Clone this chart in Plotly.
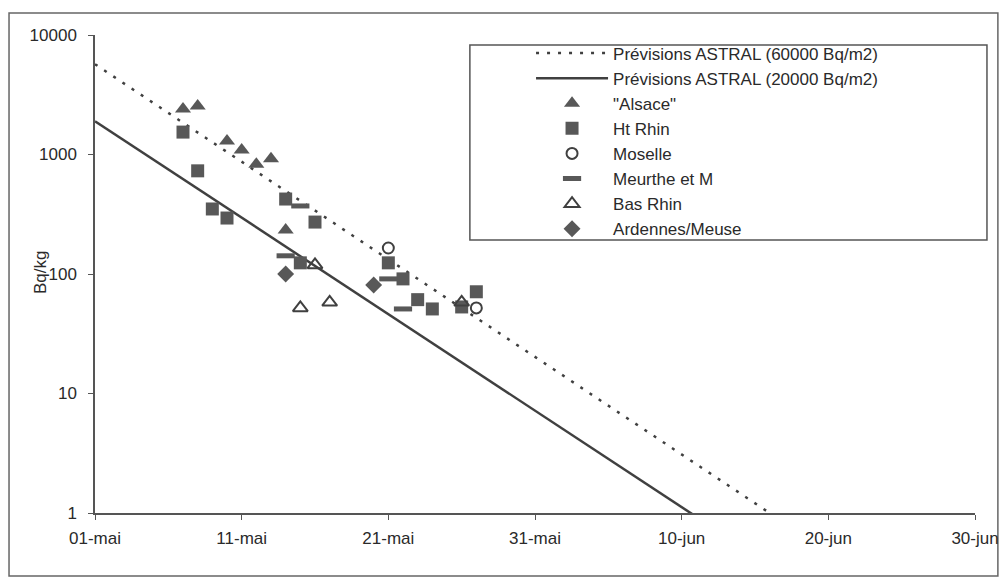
import plotly.graph_objects as go

# ---------------- data ----------------
tick_dates = ["1986-05-01", "1986-05-11", "1986-05-21", "1986-05-31",
              "1986-06-10", "1986-06-20", "1986-06-30"]
tick_labels = ["01-mai", "11-mai", "21-mai", "31-mai", "10-jun", "20-jun", "30-jun"]

pred60_dates = ["1986-05-01", "1986-06-16"]
pred60_vals = [5700, 1.0]
pred20_dates = ["1986-05-01", "1986-06-11"]
pred20_vals = [1900, 0.93]

alsace_dates = ["1986-05-07", "1986-05-08", "1986-05-10", "1986-05-11",
                "1986-05-12", "1986-05-13", "1986-05-14"]
alsace_vals = [2400, 2550, 1300, 1090, 830, 920, 233]

htrhin_dates = ["1986-05-07", "1986-05-08", "1986-05-09", "1986-05-10",
                "1986-05-14", "1986-05-15", "1986-05-16", "1986-05-21",
                "1986-05-22", "1986-05-23", "1986-05-24", "1986-05-26",
                "1986-05-27"]
htrhin_vals = [1540, 730, 350, 294, 424, 124, 272, 124, 91, 61, 51, 53, 71]

moselle_dates = ["1986-05-21", "1986-05-27"]
moselle_vals = [165, 52]

meurthe_dates = ["1986-05-14", "1986-05-15", "1986-05-21", "1986-05-22"]
meurthe_vals = [142, 371, 91, 51]

basrhin_dates = ["1986-05-15", "1986-05-16", "1986-05-17", "1986-05-26"]
basrhin_vals = [52, 119, 58, 58]

ardennes_dates = ["1986-05-14", "1986-05-20"]
ardennes_vals = [100, 81]

# ---------------- figure ----------------
FONT = "Liberation Sans, Arial, Helvetica, sans-serif"
INK = "#404040"
MARK = "#585858"
TXT = "#2a2a2a"

fig = go.Figure()

fig.add_trace(go.Scatter(
    x=pred60_dates, y=pred60_vals, mode="lines",
    name="Prévisions ASTRAL (60000 Bq/m2)",
    line=dict(color=INK, width=2.5, dash="3px,8px")))
fig.add_trace(go.Scatter(
    x=pred20_dates, y=pred20_vals, mode="lines",
    name="Prévisions ASTRAL (20000 Bq/m2)",
    line=dict(color=INK, width=2.5)))
fig.add_trace(go.Scatter(
    x=alsace_dates, y=alsace_vals, mode="markers", name='"Alsace"',
    marker=dict(symbol="triangle-up", size=14, color=MARK,
                line=dict(width=0))))
fig.add_trace(go.Scatter(
    x=htrhin_dates, y=htrhin_vals, mode="markers", name="Ht Rhin",
    marker=dict(symbol="square", size=13, color=MARK,
                line=dict(width=0))))
fig.add_trace(go.Scatter(
    x=moselle_dates, y=moselle_vals, mode="markers", name="Moselle",
    marker=dict(symbol="circle-open", size=11, color=INK,
                line=dict(width=2, color=INK))))
fig.add_trace(go.Scatter(
    x=meurthe_dates, y=meurthe_vals, mode="markers", name="Meurthe et M",
    marker=dict(symbol="line-ew", size=13,
                line=dict(width=5, color=MARK))))
fig.add_trace(go.Scatter(
    x=basrhin_dates, y=basrhin_vals, mode="markers", name="Bas Rhin",
    marker=dict(symbol="triangle-up-open", size=13, color=INK,
                line=dict(width=2, color=INK))))
fig.add_trace(go.Scatter(
    x=ardennes_dates, y=ardennes_vals, mode="markers", name="Ardennes/Meuse",
    marker=dict(symbol="diamond", size=13, color=MARK,
                line=dict(width=0))))

fig.update_layout(
    width=1003, height=582,
    margin=dict(l=95, r=28, t=35, b=69, autoexpand=False),
    paper_bgcolor="white", plot_bgcolor="white",
    font=dict(family=FONT, size=17, color=TXT),
    showlegend=True,
    legend=dict(x=0.4955, y=0.999, xanchor="left", yanchor="top",
                bgcolor="rgba(0,0,0,0)", borderwidth=0,
                itemwidth=72, font=dict(family=FONT, size=17, color=TXT),
                tracegroupgap=0),
    xaxis=dict(type="date", range=["1986-05-01", "1986-06-30"],
               tickvals=tick_dates, ticktext=tick_labels,
               showgrid=False, zeroline=False, automargin=False,
               showline=True, linecolor="#555555", linewidth=1.5,
               ticks="outside", ticklen=5, tickcolor="#555555", tickwidth=1.2,
               ticklabelstandoff=4,
               tickfont=dict(family=FONT, size=17, color=TXT)),
    yaxis=dict(type="log", range=[0, 4],
               tickvals=[1, 10, 100, 1000, 10000],
               ticktext=["1", "10", "100", "1000", "10000"],
               showgrid=False, zeroline=False, automargin=False,
               showline=True, linecolor="#555555", linewidth=1.5,
               ticks="outside", ticklen=5, tickcolor="#555555", tickwidth=1.2,
               ticklabelstandoff=8,
               tickfont=dict(family=FONT, size=17, color=TXT)),
)

# y-axis title placed like the original
fig.add_annotation(text="Bq/kg", xref="paper", yref="paper",
                   x=-0.0625, y=0.502, xanchor="center", yanchor="middle",
                   textangle=-90, showarrow=False,
                   font=dict(family=FONT, size=17, color=TXT))

# legend frame
fig.add_shape(type="rect", xref="paper", yref="paper",
              x0=0.426, x1=1.0136, y0=0.571, y1=0.979,
              line=dict(color="#555555", width=1.5), layer="below")
# outer frame
fig.add_shape(type="rect", xref="paper", yref="paper",
              x0=-0.0977, x1=1.026, y0=-0.1318, y1=1.046,
              line=dict(color="#666666", width=1.5), layer="below")

fig.write_html("out.html")
